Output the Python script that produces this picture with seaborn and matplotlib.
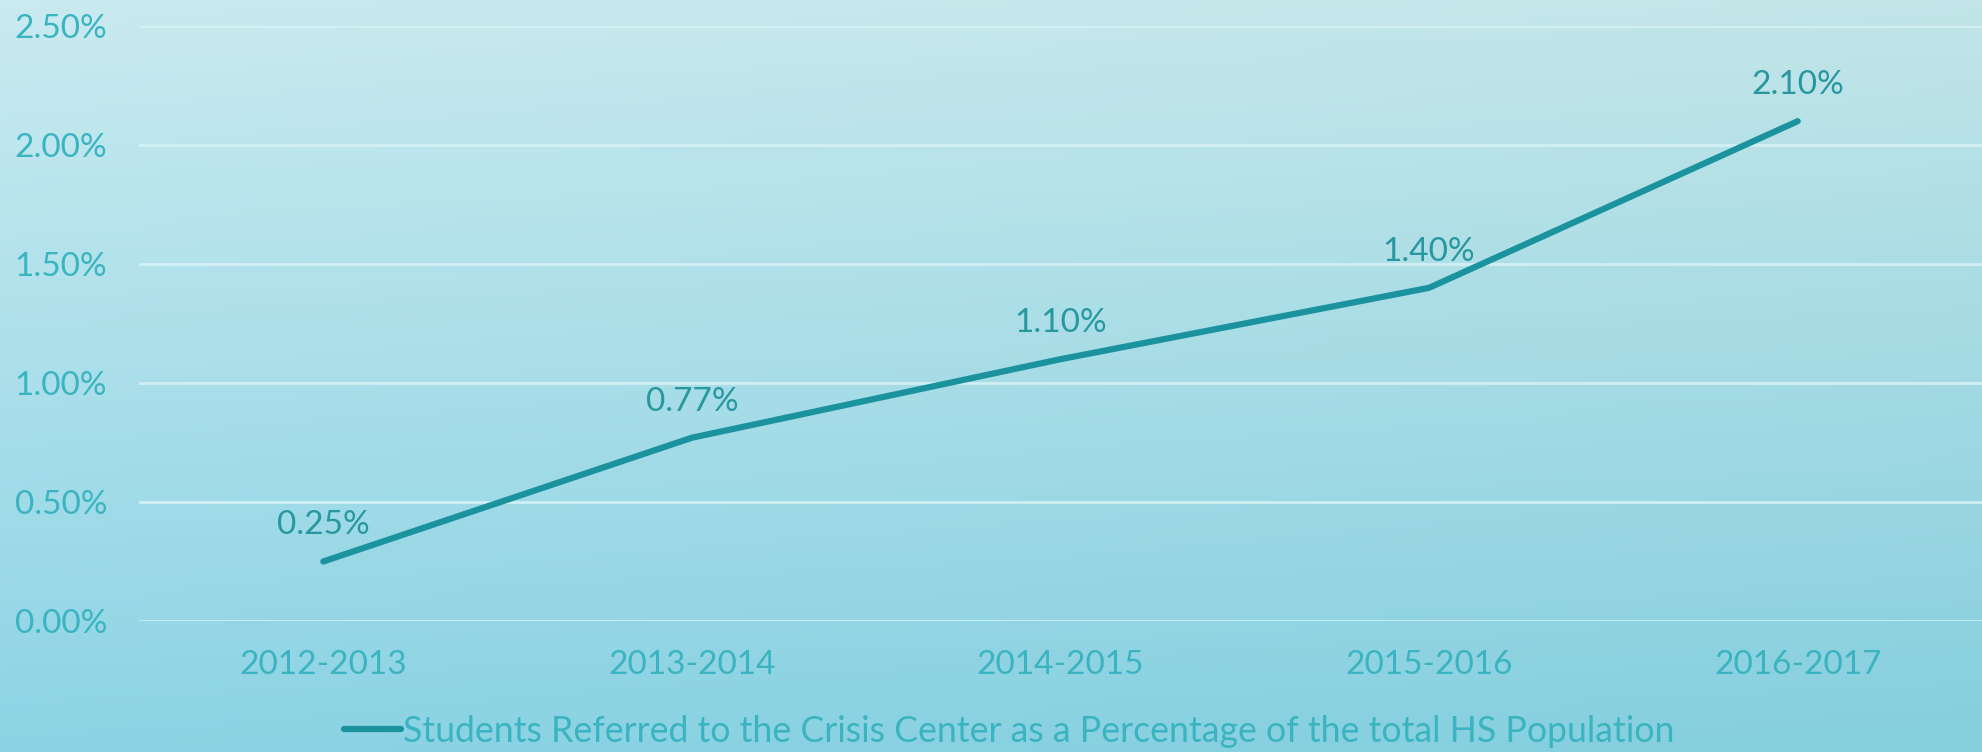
import numpy as np
import pandas as pd
import matplotlib.pyplot as plt
import seaborn as sns
from matplotlib.ticker import FuncFormatter

# Data
years = ['2012-2013', '2013-2014', '2014-2015', '2015-2016', '2016-2017']
pct_referred = [0.25, 0.77, 1.10, 1.40, 2.10]
series_name = 'Students Referred to the Crisis Center as a Percentage of the total HS Population'

df = pd.DataFrame({'Year': years, 'Percent': pct_referred, 'Series': series_name})

line_color = '#1b939f'
label_color = '#27989f'
text_color = '#3ab4c0'
font_list = ['Lato', 'DejaVu Sans']

sns.set_theme(style='white')
plt.rcParams['font.family'] = font_list

fig = plt.figure(figsize=(19.82, 7.52), dpi=100)

# Background gradient (light cyan, darker towards the bottom)
bg = fig.add_axes([0, 0, 1, 1], zorder=-10)
top = np.array([0.79, 0.92, 0.94])
bottom = np.array([0.55, 0.83, 0.90])
right_tint = np.array([-0.03, -0.02, -0.03])
ny, nx = 200, 400
t = np.linspace(0, 1, ny)[:, None, None]
s = np.linspace(0, 1, nx)[None, :, None]
img = top * (1 - t) + bottom * t + right_tint * s
bg.imshow(np.clip(img, 0, 1), aspect='auto', extent=[0, 1, 0, 1])
bg.axis('off')

ax = fig.add_axes([139 / 1982, 1 - 621 / 752, 1 - 139 / 1982, 595 / 752])
ax.patch.set_alpha(0)

sns.lineplot(data=df, x='Year', y='Percent', hue='Series', palette=[line_color],
             linewidth=4.5, ax=ax, sort=False)
for ln in ax.lines:
    ln.set_solid_capstyle('round')

ax.set_xlim(-0.5, 4.5)
ax.set_ylim(0, 2.5)
ax.set_yticks([0, 0.5, 1.0, 1.5, 2.0, 2.5])
ax.yaxis.set_major_formatter(FuncFormatter(lambda v, p: f'{v:.2f}%'))
ax.grid(axis='y', color='#d6f1f5', linewidth=2, alpha=0.9)
ax.set_axisbelow(True)
for sp in ax.spines.values():
    sp.set_visible(False)
ax.set_xlabel('')
ax.set_ylabel('')
ax.tick_params(axis='both', length=0, labelsize=24, colors=text_color)
ax.tick_params(axis='y', pad=23)
ax.tick_params(axis='x', pad=21)

# Data labels
for i, v in enumerate(pct_referred):
    ax.annotate(f'{v:.2f}%', (i, v), xytext=(0, 26), textcoords='offset points',
                ha='center', va='center', fontsize=24, color=label_color)

# Legend below
ax.legend(loc='center', bbox_to_anchor=(0.472, -0.185),
          frameon=False, fontsize=25.7, labelcolor=text_color, handlelength=1.6,
          handletextpad=0.05)

fig.savefig('out.png', dpi=100)
